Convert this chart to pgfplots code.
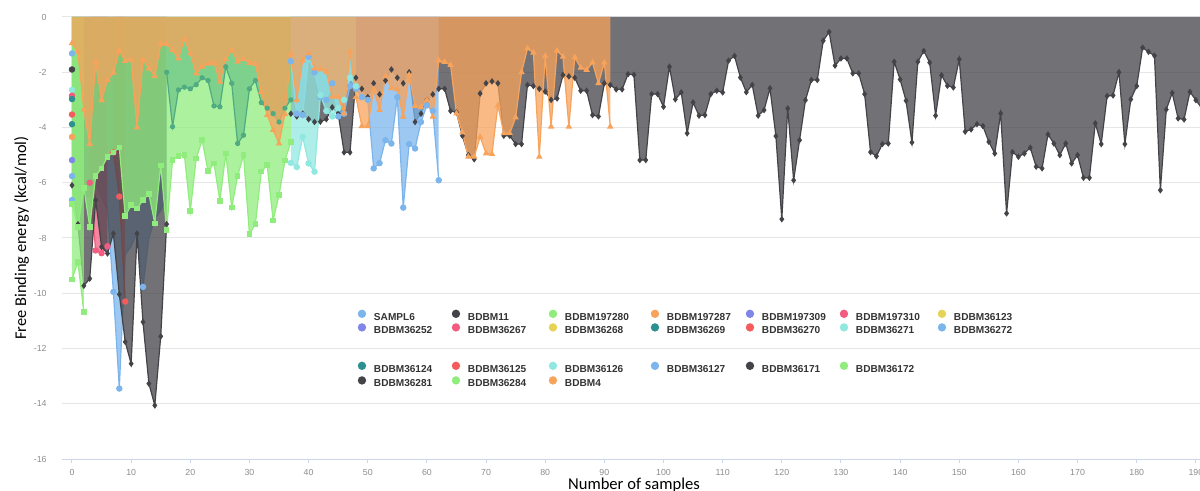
\documentclass[border=0pt]{standalone}
\usepackage{pgfplots}
\pgfplotsset{compat=1.18}
\usepackage{pgfplotstable}
\usepackage{fontspec}
\setmainfont{Liberation Sans}
\newfontfamily\calibri{Carlito}
\definecolor{hblue}{HTML}{7CB5EC}
\definecolor{hdark}{HTML}{434348}
\definecolor{hgreen}{HTML}{90ED7D}
\definecolor{horange}{HTML}{F7A35C}
\definecolor{hpurple}{HTML}{8085E9}
\definecolor{hpink}{HTML}{F15C80}
\definecolor{hyellow}{HTML}{E4D354}
\definecolor{hteal}{HTML}{2B908F}
\definecolor{hred}{HTML}{F45B5B}
\definecolor{hcyan}{HTML}{91E8E1}
\definecolor{gmidfill}{RGB}{109,199,134}
\definecolor{gmidline}{RGB}{80,170,130}
\definecolor{axisblue}{HTML}{CCD6EB}
\definecolor{gridgray}{HTML}{E6E6E6}
\definecolor{tickgray}{RGB}{140,140,140}
\definecolor{legtext}{HTML}{333333}

% orange series (0..91)
\pgfplotstableread{
x y
0 -0.95
1 -1.26
2 -3.35
3 -4.60
4 -1.62
5 -3.01
6 -2.28
7 -2.02
8 -1.22
9 -1.59
10 -1.55
11 -4.00
12 -1.55
13 -1.86
14 -2.14
15 -0.98
16 -0.98
17 -1.20
18 -1.50
19 -0.81
20 -1.32
21 -2.04
22 -1.80
23 -1.69
24 -1.66
25 -2.34
26 -1.53
27 -1.20
28 -1.62
29 -1.53
30 -1.66
31 -1.70
32 -2.71
33 -3.55
34 -4.09
35 -4.58
36 -3.51
37 -1.35
38 -3.00
39 -1.57
40 -1.32
41 -1.86
42 -1.90
43 -1.98
44 -2.89
45 -2.89
46 -3.49
47 -1.26
48 -2.90
49 -3.95
50 -3.95
51 -2.62
52 -3.37
53 -2.14
54 -2.58
55 -2.62
56 -3.61
57 -2.10
58 -3.22
59 -3.27
60 -3.01
61 -3.61
62 -1.58
63 -1.63
64 -1.74
65 -3.49
66 -4.18
67 -5.06
68 -5.06
69 -4.34
70 -4.94
71 -4.96
72 -3.20
73 -4.21
74 -4.21
75 -3.64
76 -2.00
77 -1.14
78 -1.29
79 -5.06
80 -1.41
81 -3.97
82 -1.22
83 -1.44
84 -3.97
85 -1.46
86 -1.84
87 -1.92
88 -1.65
89 -2.40
90 -1.65
91 -3.97
}\tOrange

% long dark series (37..191)
\pgfplotstableread{
x y
37 -3.50
38 -3.60
39 -3.50
40 -3.70
41 -3.80
42 -3.79
43 -3.70
44 -3.27
45 -3.50
46 -4.90
47 -4.90
48 -2.20
49 -2.60
50 -2.90
51 -2.40
52 -2.80
53 -2.30
54 -1.90
55 -2.20
56 -2.40
57 -2.00
58 -3.80
59 -3.50
60 -3.00
61 -2.80
62 -2.60
63 -2.60
64 -3.40
65 -3.45
66 -4.30
67 -5.00
68 -5.15
69 -2.77
70 -2.40
71 -2.33
72 -2.40
73 -4.30
74 -4.30
75 -4.60
76 -4.60
77 -2.46
78 -2.50
79 -2.60
80 -2.70
81 -3.00
82 -2.95
83 -2.10
84 -2.15
85 -2.20
86 -2.67
87 -2.67
88 -3.55
89 -3.60
90 -2.40
91 -2.46
92 -2.62
93 -2.62
94 -2.07
95 -2.09
96 -5.18
97 -5.18
98 -2.79
99 -2.79
100 -3.25
101 -1.80
102 -2.98
103 -2.73
104 -4.21
105 -3.09
106 -3.57
107 -3.55
108 -2.79
109 -2.67
110 -2.73
111 -1.58
112 -1.41
113 -2.19
114 -2.72
115 -2.46
116 -3.57
117 -3.37
118 -2.58
119 -4.31
120 -7.32
121 -3.31
122 -5.91
123 -4.46
124 -3.01
125 -2.28
126 -2.28
127 -0.86
128 -0.54
129 -1.76
130 -1.50
131 -1.50
132 -2.04
133 -2.04
134 -2.79
135 -4.89
136 -5.04
137 -4.60
138 -4.58
139 -1.62
140 -2.26
141 -3.03
142 -4.54
143 -1.62
144 -1.23
145 -1.65
146 -3.57
147 -2.11
148 -2.49
149 -2.55
150 -1.53
151 -4.15
152 -4.07
153 -3.88
154 -3.95
155 -4.52
156 -4.94
157 -3.49
158 -7.11
159 -4.89
160 -5.06
161 -4.94
162 -4.73
163 -5.42
164 -5.48
165 -4.25
166 -4.58
167 -5.00
168 -4.58
169 -5.30
170 -5.00
171 -5.82
172 -5.82
173 -3.85
174 -4.60
175 -2.86
176 -2.84
177 -2.00
178 -4.60
179 -2.98
180 -2.50
181 -1.11
182 -1.26
183 -1.40
184 -6.27
185 -3.35
186 -2.75
187 -3.67
188 -3.71
189 -2.71
190 -3.01
191 -3.30
}\tDarkLong

% dark series (0..16)
\pgfplotstableread{
x y
0 -6.09
1 -7.50
2 -9.73
3 -9.47
4 -6.63
5 -8.32
6 -8.56
7 -7.84
8 -10.04
9 -11.76
10 -12.55
11 -7.84
12 -11.04
13 -13.27
14 -14.06
15 -11.56
16 -7.50
}\tDarkLeft

% blue series (0..16)
\pgfplotstableread{
x y
0 -5.80
1 -6.00
2 -6.50
3 -6.50
4 -6.00
5 -6.50
6 -7.00
7 -9.95
8 -13.45
9 -8.60
10 -8.30
11 -7.80
12 -9.77
13 -8.00
14 -7.30
15 -7.00
16 -6.50
}\tBlueLeft

% blue series (37..62)
\pgfplotstableread{
x y
37 -1.60
38 -3.50
39 -3.55
40 -1.44
41 -2.00
42 -2.90
43 -3.00
44 -2.40
45 -3.60
46 -3.50
47 -2.50
48 -2.60
49 -2.90
50 -3.00
51 -5.48
52 -5.29
53 -4.46
54 -4.58
55 -2.90
56 -6.90
57 -4.60
58 -4.76
59 -3.80
60 -3.20
61 -3.40
62 -5.91
}\tBlueMid

% cyan series (37..48)
\pgfplotstableread{
x y
37 -5.28
38 -5.43
39 -4.34
40 -5.30
41 -5.60
42 -2.83
43 -3.40
44 -3.60
45 -3.30
46 -3.00
47 -2.20
48 -2.50
}\tCyan

% pink series (3..6) and red series (7..9)
\pgfplotstableread{
x y
3 -6.00
4 -8.45
5 -8.55
6 -8.30
}\tPink
\pgfplotstableread{
x y
7 -4.90
8 -6.50
9 -10.30
}\tRed

% green series
\pgfplotstableread{
x y
0 -9.50
1 -8.87
2 -10.68
}\tGshort
\pgfplotstableread{
x y
0 -6.78
1 -7.60
2 -6.18
3 -7.60
4 -5.76
5 -5.48
6 -5.06
7 -4.90
8 -4.73
9 -7.21
10 -6.81
11 -6.93
12 -6.63
13 -6.41
14 -7.47
15 -5.37
16 -7.72
17 -5.18
18 -5.04
19 -5.00
20 -7.03
21 -5.12
22 -4.46
23 -5.58
24 -5.30
25 -6.65
26 -4.94
27 -6.90
28 -5.76
29 -5.00
30 -7.86
31 -7.50
32 -5.60
33 -5.36
34 -7.36
35 -6.45
36 -5.20
37 -4.52
}\tGlight
\pgfplotstableread{
x y
16 -2.00
17 -3.97
18 -2.64
19 -2.54
20 -2.60
21 -2.45
22 -2.20
23 -2.30
24 -3.22
25 -3.25
26 -1.80
27 -2.40
28 -4.58
29 -4.28
30 -2.60
31 -2.30
32 -3.10
33 -3.30
34 -3.50
35 -3.80
36 -3.30
37 -3.00
}\tGmid

\pgfplotsset{
  areafill/.style={draw=none, fill=#1, fill opacity=0.75, forget plot},
  serline/.style={color=#1, line width=0.6bp, forget plot, mark options={solid, fill=#1, draw=#1}},
  single/.style={only marks, mark=*, mark size=1.4bp, color=#1, forget plot},
  legbase/.style={
    legend columns=7,
    legend cell align=left,
    legend image code/.code={\fill[##1] (0bp,1.8bp) circle[radius=2.1bp];},
    legend style={draw=none, fill=none, inner sep=0pt, outer sep=0pt,
      nodes={inner sep=0pt, text height=3.7bp, text depth=0.9bp,
        font=\bfseries\fontsize{5.05bp}{5.5bp}\selectfont, text=legtext},
      /tikz/every odd column/.append style={column sep=3.9bp}},
  },
}
\newcommand{\legitem}[3]{\addlegendimage{fill=#1, draw=none}\addlegendentry{\makebox[#2][l]{#3}}}

\begin{document}
\begin{tikzpicture}
\begin{axis}[
  at={(0,0)}, anchor=south west,
  scale only axis, width=569bp, height=221bp,
  xmin=-1.69, xmax=190.7, ymin=-16, ymax=0,
  xtick={0,10,...,190},
  ytick={-16,-14,-12,-10,-8,-6,-4,-2,0},
  yticklabels={-16,-14,-12,-10,-8,-6,-4,-2,0},
  /pgf/number format/assume math mode=true,
  tick label style={font=\fontsize{4.4bp}{5bp}\selectfont, text=tickgray},
  yticklabel style={inner sep=0pt, xshift=-5.5bp},
  xticklabel style={inner sep=0pt, yshift=-3.2bp},
  axis lines=left,
  axis line style={-},
  x axis line style={draw=axisblue, line width=0.5bp},
  y axis line style={draw=none},
  tick align=outside,
  major tick length=2bp,
  xtick style={draw=axisblue, line width=0.5bp},
  ytick style={draw=none},
  ymajorgrids=true,
  grid style={draw=gridgray, line width=0.5bp},
  xlabel={Number of samples},
  ylabel={Free Binding energy (kcal/mol)},
  every axis x label/.style={at={(axis description cs:0.5026,0)}, anchor=base, yshift=-15.3bp, inner sep=0pt, font=\calibri\fontsize{8.3bp}{10bp}\selectfont},
  every axis y label/.style={at={(axis description cs:-0.0356,0.5)}, rotate=90, anchor=center, inner sep=0pt, font=\calibri\fontsize{8.2bp}{10bp}\selectfont},
  legbase,
  legend style={at={(0.2599,0.3380)}, anchor=north west, row sep=0.6bp},
]
% single-value series at x = 0
\addplot[single=hblue] coordinates {(0,-1.32) (0,-5.76) (0,-6.63)};
\addplot[single=hdark] coordinates {(0,-1.90)};
\addplot[single=hcyan] coordinates {(0,-2.64)};
\addplot[single=hpink] coordinates {(0,-2.85)};
\addplot[single=hteal] coordinates {(0,-2.97) (0,-3.88)};
\addplot[single=hred] coordinates {(0,-3.53)};
\addplot[single=horange] coordinates {(0,-4.34)};
\addplot[single=hpurple] coordinates {(0,-5.18)};

% blue (left)
\addplot[areafill=hblue] table {\tBlueLeft} \closedcycle;
\addplot[serline=hblue, mark=*, mark size=1.3bp, mark indices={8,9,13}] table {\tBlueLeft};
% pink
\addplot[areafill=hpink] table {\tPink} \closedcycle;
\addplot[serline=hpink, mark=*, mark size=1.3bp] table {\tPink};
% red
\addplot[areafill=hred] table {\tRed} \closedcycle;
\addplot[serline=hred, mark=*, mark size=1.3bp] table {\tRed};
% dark (left)
\addplot[areafill=hdark] table {\tDarkLeft} \closedcycle;
\addplot[serline=hdark, mark=diamond*, mark size=1.15bp] table {\tDarkLeft};
% dark (long)
\addplot[areafill=hdark] table {\tDarkLong} \closedcycle;
\addplot[serline=hdark, mark=diamond*, mark size=1.15bp] table {\tDarkLong};
% blue (middle)
\addplot[areafill=hblue] table {\tBlueMid} \closedcycle;
\addplot[serline=hblue, mark=*, mark size=1.3bp] table {\tBlueMid};
% cyan
\addplot[areafill=hcyan] table {\tCyan} \closedcycle;
\addplot[serline=hcyan, mark=*, mark size=1.3bp] table {\tCyan};
% greens
\addplot[areafill=hgreen] table {\tGshort} \closedcycle;
\addplot[serline=hgreen, mark=square*, mark size=1.1bp] table {\tGshort};
\addplot[areafill=hgreen] table {\tGlight} \closedcycle;
\addplot[serline=hgreen, mark=square*, mark size=1.1bp] table {\tGlight};
\addplot[areafill=gmidfill] table {\tGmid} \closedcycle;
\addplot[serline=gmidline, mark=*, mark size=1.0bp] table {\tGmid};
% orange
\addplot[areafill=horange] table {\tOrange} \closedcycle;
\addplot[serline=horange, mark=triangle*, mark size=1.3bp] table {\tOrange};

\legitem{hblue}{38.9bp}{SAMPL6}
\legitem{hdark}{40.4bp}{BDBM11}
\legitem{hgreen}{42.9bp}{BDBM197280}
\legitem{horange}{39.4bp}{BDBM197287}
\legitem{hpurple}{38.9bp}{BDBM197309}
\legitem{hpink}{40.9bp}{BDBM197310}
\legitem{hyellow}{40bp}{BDBM36123}
\legitem{hpurple}{38.9bp}{BDBM36252}
\legitem{hpink}{40.4bp}{BDBM36267}
\legitem{hyellow}{42.9bp}{BDBM36268}
\legitem{hteal}{39.4bp}{BDBM36269}
\legitem{hred}{38.9bp}{BDBM36270}
\legitem{hcyan}{40.9bp}{BDBM36271}
\legitem{hblue}{40bp}{BDBM36272}
\end{axis}

\begin{axis}[
  at={(0,0)}, anchor=south west,
  scale only axis, width=569bp, height=221bp,
  xmin=0, xmax=1, ymin=0, ymax=1,
  hide axis,
  legbase,
  legend style={at={(0.2599,0.2203)}, anchor=north west, row sep=1.1bp},
]
\legitem{hteal}{38.9bp}{BDBM36124}
\legitem{hred}{40.4bp}{BDBM36125}
\legitem{hcyan}{42.9bp}{BDBM36126}
\legitem{hblue}{39.4bp}{BDBM36127}
\legitem{hdark}{38.9bp}{BDBM36171}
\legitem{hgreen}{40.9bp}{BDBM36172}
\addlegendimage{empty legend}\addlegendentry{}
\legitem{hdark}{38.9bp}{BDBM36281}
\legitem{hgreen}{40.4bp}{BDBM36284}
\legitem{horange}{42.9bp}{BDBM4}
\end{axis}
\pgfresetboundingbox
\path[use as bounding box] (-31bp,-16bp) rectangle (569bp,229.5bp);
\end{tikzpicture}
\end{document}
